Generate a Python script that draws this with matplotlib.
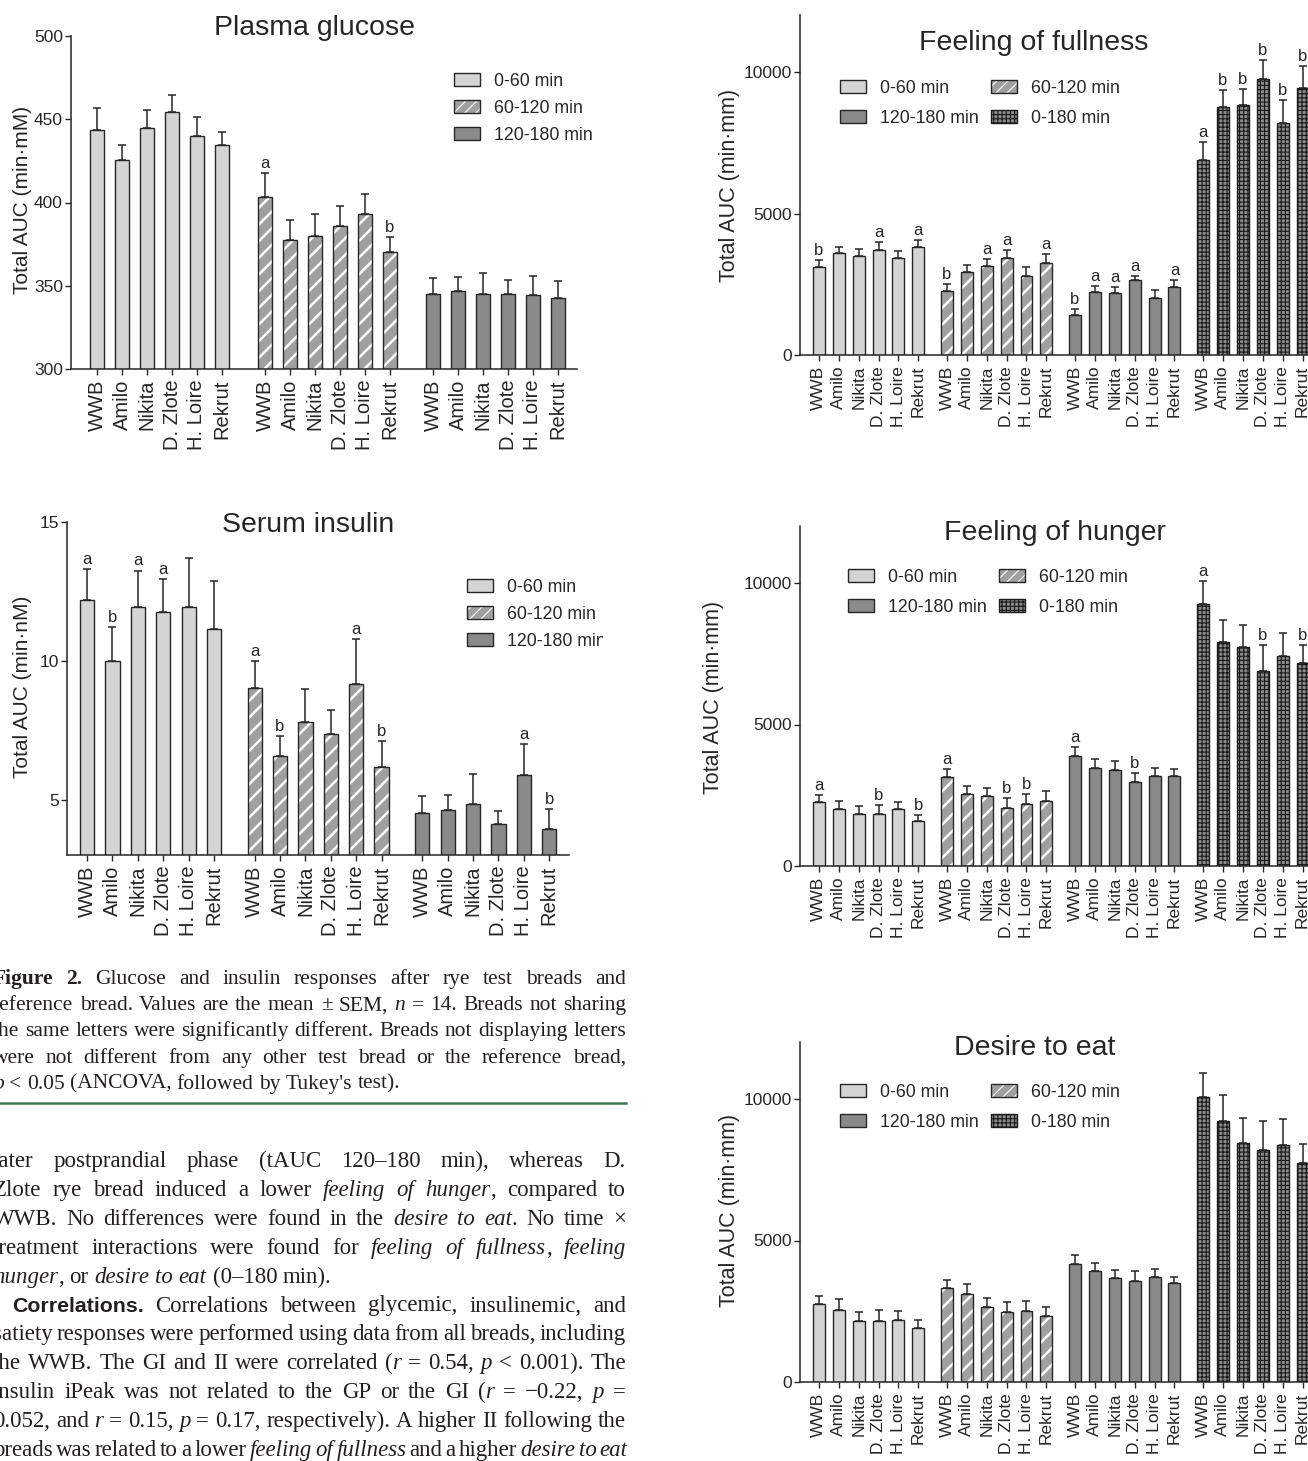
import numpy as np
import matplotlib
matplotlib.use("Agg")
import matplotlib.pyplot as plt
from matplotlib.patches import Patch
from matplotlib.lines import Line2D
from matplotlib.font_manager import FontProperties
from matplotlib.transforms import Bbox

plt.rcParams['font.family'] = ['Liberation Sans', 'DejaVu Sans']

# ---- data ----
breads = ["WWB", "Amilo", "Nikita", "D. Zlote", "H. Loire", "Rekrut"]

glu_0_60 = [443.3, 425.3, 444.7, 454.3, 439.9, 434.7]
glu_0_60_sem = [13.4, 9.4, 10.8, 10.0, 11.2, 7.8]
glu_60_120 = [403.6, 377.2, 380.0, 386.0, 393.2, 370.0]
glu_60_120_sem = [14.0, 12.0, 13.2, 11.6, 12.0, 9.2]
glu_120_180 = [345.1, 347.1, 345.1, 345.3, 344.7, 342.5]
glu_120_180_sem = [9.8, 8.4, 12.6, 8.4, 11.2, 10.4]
glu_letters = [["", "", "", "", "", ""], ["a", "", "", "", "", "b"], ["", "", "", "", "", ""]]

ins_0_60 = [12.18, 9.98, 11.94, 11.75, 11.94, 11.13]
ins_0_60_sem = [1.12, 1.22, 1.31, 1.19, 1.78, 1.73]
ins_60_120 = [9.02, 6.56, 7.79, 7.37, 9.16, 6.17]
ins_60_120_sem = [0.96, 0.74, 1.18, 0.84, 1.63, 0.94]
ins_120_180 = [4.51, 4.63, 4.84, 4.12, 5.90, 3.95]
ins_120_180_sem = [0.61, 0.54, 1.09, 0.46, 1.10, 0.70]
ins_letters = [["a", "b", "a", "a", "", ""], ["a", "b", "", "", "a", "b"], ["", "", "", "", "a", "b"]]

full_0_60 = [3118, 3588, 3494, 3706, 3435, 3800]
full_0_60_sem = [235, 236, 235, 270, 235, 259]
full_60_120 = [2259, 2929, 3141, 3412, 2776, 3247]
full_60_120_sem = [235, 236, 259, 294, 342, 329]
full_120_180 = [1400, 2212, 2188, 2635, 2012, 2412]
full_120_180_sem = [212, 223, 224, 165, 294, 235]
full_0_180 = [6882, 8765, 8835, 9753, 8212, 9447]
full_0_180_sem = [659, 588, 577, 659, 812, 765]
full_letters = [["b", "", "", "a", "", "a"], ["b", "", "a", "a", "", "a"],
                ["b", "a", "a", "a", "", "a"], ["a", "b", "b", "b", "b", "b"]]

hung_0_60 = [2250, 2002, 1837, 1826, 2002, 1590]
hung_0_60_sem = [270, 295, 283, 318, 248, 212]
hung_60_120 = [3145, 2532, 2462, 2061, 2179, 2309]
hung_60_120_sem = [283, 283, 306, 354, 353, 329]
hung_120_180 = [3899, 3475, 3380, 2980, 3180, 3192]
hung_120_180_sem = [294, 306, 318, 318, 271, 236]
hung_0_180 = [9258, 7927, 7739, 6890, 7432, 7161]
hung_0_180_sem = [801, 777, 777, 931, 789, 660]
hung_letters = [["a", "", "", "b", "", "b"], ["a", "", "", "b", "b", ""],
                ["a", "", "", "b", "", ""], ["a", "", "", "b", "", "b"]]

des_0_60 = [2756, 2532, 2167, 2167, 2179, 1896]
des_0_60_sem = [283, 389, 306, 377, 342, 283]
des_60_120 = [3310, 3110, 2638, 2462, 2497, 2332]
des_60_120_sem = [294, 341, 318, 377, 353, 330]
des_120_180 = [4170, 3910, 3663, 3581, 3698, 3486]
des_120_180_sem = [306, 295, 295, 341, 307, 224]
des_0_180 = [10059, 9223, 8457, 8198, 8375, 7739]
des_0_180_sem = [872, 918, 883, 1036, 918, 683]
des_letters = [[""] * 6] * 4

periods3 = ["0-60 min", "60-120 min", "120-180 min"]
periods4 = ["0-60 min", "60-120 min", "120-180 min", "0-180 min"]

caption_lines = [
    "^Figure 2.^ Glucose and insulin responses after rye test breads and",
    "reference bread. Values are the mean ± SEM, *n* = 14. Breads not sharing",
    "the same letters were significantly different. Breads not displaying letters",
    "were not different from any other test bread or the reference bread,",
    "*p* < 0.05 (ANCOVA, followed by Tukey's test).",
]
body_lines = [
    "later postprandial phase (tAUC 120–180 min), whereas D.",
    "Zlote rye bread induced a lower *feeling of hunger*, compared to",
    "WWB. No differences were found in the *desire to eat*. No time ×",
    "treatment interactions were found for *feeling of fullness*, *feeling*",
    "*hunger*, or *desire to eat* (0–180 min).",
    "%Correlations.% Correlations between glycemic, insulinemic, and",
    "satiety responses were performed using data from all breads, including",
    "the WWB. The GI and II were correlated (*r* = 0.54, *p* < 0.001). The",
    "insulin iPeak was not related to the GP or the GI (*r* = −0.22, *p* =",
    "0.052, and *r* = 0.15, *p* = 0.17, respectively). A higher II following the",
    "breads was related to a lower *feeling of fullness* and a higher *desire to eat*",
]

# ---- figure ----
W, H = 1308, 1461
fig = plt.figure(figsize=(W / 100, H / 100), dpi=100)

INK = '#262626'
C_LIGHT = '#d4d4d4'
C_STRIPE = '#a0a0a0'
C_DARK = '#8a8a8a'


def add_ax(left, top, right, bottom):
    return fig.add_axes([left / W, 1 - bottom / H, (right - left) / W, (bottom - top) / H])


def bar_series(ax, pos, means, sems, letters, kind, width):
    if kind == 0:
        ax.bar(pos, means, width, color=C_LIGHT, edgecolor=INK, linewidth=1)
    elif kind == 1:
        plt.rcParams['hatch.linewidth'] = 1.8
        ax.bar(pos, means, width, color=C_STRIPE, edgecolor='white', hatch='//', linewidth=0)
        ax.bar(pos, means, width, fill=False, edgecolor=INK, linewidth=1)
    elif kind == 2:
        ax.bar(pos, means, width, color=C_DARK, edgecolor=INK, linewidth=1)
    else:
        plt.rcParams['hatch.linewidth'] = 0.8
        ax.bar(pos, means, width, color=C_DARK, edgecolor='#1a1a1a', hatch='++++', linewidth=1)
    ax.errorbar(pos, means, yerr=[np.zeros(len(means)), sems], fmt='none',
                ecolor=INK, elinewidth=1.1, capsize=3, capthick=1.1)
    for p, top, s in zip(pos, np.add(means, sems), letters):
        if s:
            ax.annotate(s, (p, top), xytext=(0, 1.5), textcoords='offset points',
                        ha='center', va='bottom', fontsize=12, color=INK)


def legend_handles():
    h0 = Patch(facecolor=C_LIGHT, edgecolor=INK, linewidth=1)
    plt.rcParams['hatch.linewidth'] = 1.8
    h1 = (Patch(facecolor=C_STRIPE, edgecolor='white', hatch='///', linewidth=0),
          Patch(fill=False, edgecolor=INK, linewidth=1))
    h2 = Patch(facecolor=C_DARK, edgecolor=INK, linewidth=1)
    plt.rcParams['hatch.linewidth'] = 0.8
    h3 = Patch(facecolor=C_DARK, edgecolor='#1a1a1a', hatch='++++', linewidth=1)
    return [h0, h1, h2, h3]


def panel(box, groups, letters, step, width, xlim, ylim, yticks, fs):
    ax = add_ax(*box)
    all_pos = []
    for g, (m, s) in enumerate(groups):
        pos = g * step + np.arange(len(breads))
        bar_series(ax, pos, m, s, letters[g], g, width)
        all_pos.extend(pos)
    ax.set_xlim(xlim)
    ax.set_ylim(ylim)
    ax.set_yticks(yticks)
    ax.set_xticks(all_pos)
    ax.set_xticklabels(breads * len(groups), rotation=90, fontsize=fs)
    ax.spines[['top', 'right']].set_visible(False)
    for sp in ['left', 'bottom']:
        ax.spines[sp].set_color(INK)
        ax.spines[sp].set_linewidth(1.1)
    ax.tick_params(direction='out', length=4.3, width=1, color=INK, labelcolor=INK)
    ax.tick_params(axis='y', labelsize=12.5, pad=1.5)
    ax.patch.set_alpha(0)
    return ax


def leg(ax, x, y, ncol, clip_x=None):
    hs = legend_handles()
    if ncol == 1:
        handles, labels = hs[:3], periods3
        spacing = 0.55
    else:
        handles = [hs[0], hs[2], hs[1], hs[3]]
        labels = [periods4[0], periods4[2], periods4[1], periods4[3]]
        spacing = 0.72
    lg = ax.legend(handles, labels, loc='upper left', bbox_to_anchor=(x / W, 1 - y / H),
                   bbox_transform=fig.transFigure, frameon=False, fontsize=12.8,
                   handlelength=1.45, handleheight=0.75, handletextpad=0.8,
                   labelspacing=spacing, columnspacing=0.7, borderpad=0,
                   borderaxespad=0, ncol=ncol)
    for t in lg.get_texts():
        t.set_color(INK)
        if clip_x is not None:
            t.set_clip_box(Bbox([[0, 0], [clip_x, H]]))
            t.set_clip_on(True)


def fig_text(x, y, s, **kw):
    fig.text(x / W, 1 - y / H, s, color=INK, ha='center', va='center', **kw)


# Plasma glucose
ax = panel((71, 36, 577, 369),
           [(glu_0_60, glu_0_60_sem), (glu_60_120, glu_60_120_sem), (glu_120_180, glu_120_180_sem)],
           glu_letters, 6.72, 0.56, (-1.04, 19.2), (300, 500), [300, 350, 400, 450, 500], 14.5)
leg(ax, 454, 73, 1)
fig_text(314, 28, "Plasma glucose", fontsize=20.5)
fig_text(23, 200, "Total AUC (min·mM)", fontsize=15, rotation=90)

# Serum insulin
ax = panel((67, 522, 569, 855),
           [(ins_0_60, ins_0_60_sem), (ins_60_120, ins_60_120_sem), (ins_120_180, ins_120_180_sem)],
           ins_letters, 6.6, 0.56, (-0.79, 18.98), (3, 15), [5, 10, 15], 14.5)
leg(ax, 467, 579, 1, clip_x=603)
fig_text(308, 525, "Serum insulin", fontsize=20.5)
fig_text(23, 687, "Total AUC (min·nM)", fontsize=15, rotation=90)

# Right column
right_panels = [
    ((800, 15.4, 1320, 355), [(full_0_60, full_0_60_sem), (full_60_120, full_60_120_sem),
                              (full_120_180, full_120_180_sem), (full_0_180, full_0_180_sem)],
     full_letters, (840, 80), "Feeling of fullness", (1034, 43), (729, 185)),
    ((800, 526.4, 1320, 866), [(hung_0_60, hung_0_60_sem), (hung_60_120, hung_60_120_sem),
                               (hung_120_180, hung_120_180_sem), (hung_0_180, hung_0_180_sem)],
     hung_letters, (848, 569), "Feeling of hunger", (1055, 533), (713, 697)),
    ((800, 1042.4, 1320, 1382), [(des_0_60, des_0_60_sem), (des_60_120, des_60_120_sem),
                                 (des_120_180, des_120_180_sem), (des_0_180, des_0_180_sem)],
     des_letters, (840, 1084), "Desire to eat", (1035, 1048), (729, 1210)),
]
for box, groups, letters, lpos, title, tpos, ypos in right_panels:
    ax = panel(box, groups, letters, 6.44, 0.6, (-0.95, 25.2), (0, 12000), [0, 5000, 10000], 12.5)
    leg(ax, lpos[0], lpos[1], 2)
    fig_text(tpos[0], tpos[1], title, fontsize=20.5)
    fig_text(ypos[0], ypos[1], "Total AUC (min·mm)", fontsize=15.5, rotation=90)

# ---- caption and body text, justified ----
renderer = fig.canvas.get_renderer()
TXT = '#231f20'


def fonts(size):
    return {'n': FontProperties(family='Liberation Serif', size=size),
            'i': FontProperties(family='Liberation Serif', style='italic', size=size),
            'b': FontProperties(family='Liberation Serif', weight='bold', size=size),
            's': FontProperties(family='Liberation Sans', weight='bold', size=size * 0.93)}


def parse(line):
    marks = {'*': 'i', '^': 'b', '%': 's'}
    words, cur, buf, style = [], [], '', 'n'
    for ch in line + ' ':
        if ch in marks or ch == ' ':
            if buf:
                cur.append((buf, style))
                buf = ''
            if ch == ' ':
                if cur:
                    words.append(cur)
                cur = []
            else:
                style = marks[ch] if style == 'n' else 'n'
        else:
            buf += ch
    return words


def seg_w(s, fp):
    return renderer.get_text_width_height_descent(s, fp, ismath=False)[0]


def paragraph(lines, y0, dy, size, xl, xr, justify, indents):
    fp = fonts(size)
    space = seg_w('a a', fp['n']) - seg_w('aa', fp['n'])
    for k, line in enumerate(lines):
        words = parse(line)
        widths = [sum(seg_w(t, fp[st]) for t, st in w) for w in words]
        x = xl + indents.get(k, 0)
        gap = space
        if justify[k] and len(words) > 1:
            gap = max((xr - x - sum(widths)) / (len(words) - 1), 0.55 * space)
        y = y0 + k * dy
        for w, ww in zip(words, widths):
            xx = x
            for t, st in w:
                fig.text(xx / W, 1 - y / H, t, fontproperties=fp[st], color=TXT,
                         ha='left', va='baseline')
                xx += seg_w(t, fp[st])
            x += ww + gap


paragraph(caption_lines, 984, 26.2, 15.5, -7, 626, [True, True, True, True, False], {})
fig.add_artist(Line2D([0, 626 / W], [1 - 1103 / H] * 2, transform=fig.transFigure,
                      color='#3a7a55', linewidth=1.8))
paragraph(body_lines, 1167, 28.9, 16.5, -7, 626,
          [True, True, True, True, False, True, True, True, True, True, True], {5: 19})

fig.savefig("out.png", dpi=100, facecolor='white')
